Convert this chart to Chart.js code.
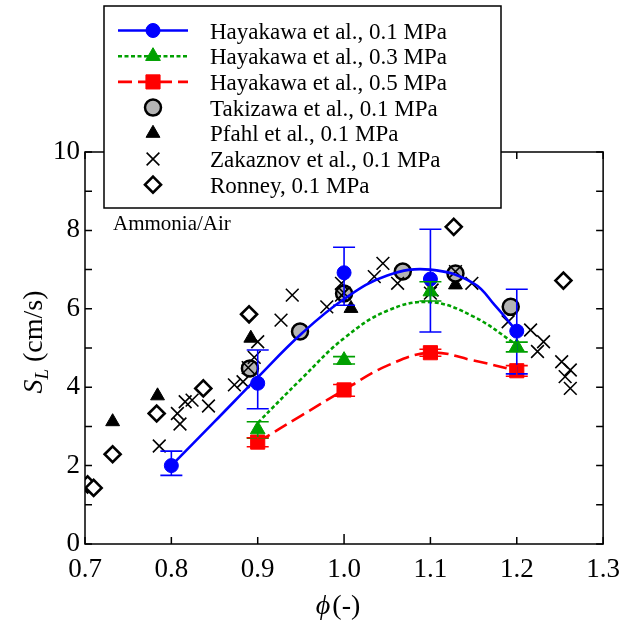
<!DOCTYPE html>
<html><head><meta charset="utf-8">
<script src="https://cdn.jsdelivr.net/npm/chart.js@4.4.1/dist/chart.umd.min.js"></script>
<style>html,body{margin:0;padding:0;background:#fff}#wrap{width:630px;height:626px;position:relative}</style>
</head><body><div id="wrap"><canvas id="c" width="630" height="626"></canvas></div>
<script>
// ---- data ----
const xTicks = [0.7, 0.8, 0.9, 1.0, 1.1, 1.2, 1.3];
const yTicks = [0, 2, 4, 6, 8, 10];

const hay01X  = [0.8, 0.9, 1.0, 1.1, 1.2];
const hay01Y  = [2.0, 4.1, 6.92, 6.76, 5.43];
const hay01Lo = [1.75, 3.45, 6.09, 5.41, 4.34];
const hay01Hi = [2.37, 4.95, 7.57, 8.03, 6.5];

const hay03X  = [0.9, 1.0, 1.1, 1.2];
const hay03Y  = [2.92, 4.69, 6.44, 5.03];
const hay03Lo = [2.7, 4.59, 6.2, 4.9];
const hay03Hi = [3.12, 4.78, 6.69, 5.15];

const hay05X  = [0.9, 1.0, 1.1, 1.2];
const hay05Y  = [2.6, 3.93, 4.88, 4.42];
const hay05Lo = [2.48, 3.77, 4.79, 4.28];
const hay05Hi = [2.71, 4.07, 4.97, 4.55];

const fit01X = [0.8, 0.85, 0.9, 0.95, 1.0, 1.05, 1.1, 1.15, 1.175, 1.2];
const fit01Y = [2.0, 3.12, 4.25, 5.35, 6.25, 6.85, 7.0, 6.65, 6.08, 5.43];
const fit03X = [0.9, 0.95, 1.0, 1.05, 1.1, 1.15, 1.2];
const fit03Y = [3.09, 4.2, 5.25, 5.95, 6.17, 5.8, 5.08];
const fit05X = [0.9, 0.95, 1.0, 1.05, 1.1, 1.15, 1.2];
const fit05Y = [2.6, 3.27, 3.93, 4.55, 4.88, 4.68, 4.42];

const takX = [0.891, 0.949, 1.0, 1.068, 1.129, 1.193];
const takY = [4.48, 5.42, 6.39, 6.95, 6.9, 6.05];

const pfaX = [0.732, 0.784, 0.892, 1.008, 1.129];
const pfaY = [3.12, 3.78, 5.25, 6.01, 6.61];

const zakX = [0.786, 0.807, 0.81, 0.816, 0.824, 0.843, 0.873, 0.883, 0.889, 0.896, 0.9, 0.927, 0.94, 0.98, 0.997, 0.997, 1.0, 1.035, 1.045, 1.062, 1.102, 1.1, 1.129, 1.148, 1.19, 1.216, 1.231, 1.224, 1.252, 1.262, 1.256, 1.262];
const zakY = [2.5, 3.33, 3.06, 3.63, 3.67, 3.52, 4.06, 4.14, 4.5, 4.76, 5.16, 5.71, 6.35, 6.05, 6.65, 6.35, 6.4, 6.82, 7.16, 6.65, 6.48, 6.4, 6.95, 6.65, 5.67, 5.46, 5.16, 4.91, 4.65, 4.44, 4.27, 3.97];

const ronX = [0.703, 0.71, 0.732, 0.783, 0.837, 0.89, 1.127, 1.254];
const ronY = [1.52, 1.43, 2.29, 3.33, 3.97, 5.86, 8.09, 6.72];

const legendLabels = [
  'Hayakawa et al., 0.1 MPa',
  'Hayakawa et al., 0.3 MPa',
  'Hayakawa et al., 0.5 MPa',
  'Takizawa et al., 0.1 MPa',
  'Pfahl et al., 0.1 MPa',
  'Zakaznov et al., 0.1 MPa',
  'Ronney, 0.1 MPa'
];
const annotationText = 'Ammonia/Air';

// ---- styling ----
const BLUE = '#0000ff', GREEN = '#00a000', RED = '#ff0000', GRAY = '#b4b4b4';
const SERIF = '"Liberation Serif", "Times New Roman", serif';
const pts = (xs, ys) => xs.map((x, i) => ({x, y: ys[i]}));

const markerStyles = [
  {style: 'circle', r: 7, bg: BLUE, bc: BLUE, bw: 1},
  {style: 'triangle', r: 8.5, bg: GREEN, bc: GREEN, bw: 1},
  {style: 'rect', r: 10, bg: RED, bc: RED, bw: 1},
  {style: 'circle', r: 8, bg: GRAY, bc: '#000', bw: 2.5},
  {style: 'triangle', r: 8, bg: '#000', bc: '#000', bw: 1},
  {style: 'crossRot', r: 9, bg: '#000', bc: '#000', bw: 1.6},
  {style: 'rectRot', r: 8, bg: '#fff', bc: '#000', bw: 2.6}
];
const lineStyles = [
  {color: BLUE, dash: []},
  {color: GREEN, dash: [4, 2.5]},
  {color: RED, dash: [14, 6]}
];

function scatterDs(label, data, m, order) {
  return {label, data, showLine: false, order,
    pointStyle: m.style, pointRadius: m.r, pointHoverRadius: m.r,
    pointBackgroundColor: m.bg, pointBorderColor: m.bc, pointBorderWidth: m.bw};
}
function curveDs(label, data, ls, order) {
  return {label, data, showLine: true, order, pointRadius: 0, pointHoverRadius: 0,
    borderColor: ls.color, borderWidth: 2.6, borderDash: ls.dash, tension: 0.4, fill: false};
}

const errorSets = [
  {x: hay01X, lo: hay01Lo, hi: hay01Hi, color: BLUE},
  {x: hay03X, lo: hay03Lo, hi: hay03Hi, color: GREEN},
  {x: hay05X, lo: hay05Lo, hi: hay05Hi, color: RED}
];

const errorBarPlugin = {
  id: 'errbars',
  afterDatasetsDraw(chart) {
    const {ctx, scales: {x, y}} = chart;
    ctx.save();
    ctx.lineWidth = 1.6;
    errorSets.forEach(s => {
      ctx.strokeStyle = s.color;
      s.x.forEach((xv, i) => {
        const px = x.getPixelForValue(xv);
        const p1 = y.getPixelForValue(s.lo[i]), p2 = y.getPixelForValue(s.hi[i]);
        ctx.beginPath();
        ctx.moveTo(px, p1); ctx.lineTo(px, p2);
        ctx.moveTo(px - 11, p1); ctx.lineTo(px + 11, p1);
        ctx.moveTo(px - 11, p2); ctx.lineTo(px + 11, p2);
        ctx.stroke();
      });
    });
    ctx.restore();
  }
};

function drawMarker(ctx, m, cx, cy) {
  ctx.save();
  ctx.fillStyle = m.bg; ctx.strokeStyle = m.bc; ctx.lineWidth = m.bw;
  Chart.helpers.drawPoint(ctx, {pointStyle: m.style, radius: m.r, rotation: 0, borderWidth: m.bw}, cx, cy);
  ctx.restore();
}

const framePlugin = {
  id: 'frame',
  afterDraw(chart) {
    const {ctx, chartArea: a, scales: {x, y}} = chart;
    ctx.save();
    ctx.strokeStyle = '#000';
    ctx.lineWidth = 1.5;
    ctx.strokeRect(a.left, a.top, a.right - a.left, a.bottom - a.top);
    ctx.beginPath();
    xTicks.forEach(v => {
      const px = x.getPixelForValue(v);
      const len = Math.abs(v - 1.0) < 1e-9 ? 10 : 7;
      ctx.moveTo(px, a.bottom); ctx.lineTo(px, a.bottom - len);
      ctx.moveTo(px, a.top); ctx.lineTo(px, a.top + len);
    });
    for (let v = y.min; v <= y.max; v += 1) {
      const py = y.getPixelForValue(v);
      ctx.moveTo(a.left, py); ctx.lineTo(a.left + 7, py);
      ctx.moveTo(a.right, py); ctx.lineTo(a.right - 7, py);
    }
    ctx.stroke();

    // axis titles
    ctx.fillStyle = '#000';
    ctx.textBaseline = 'alphabetic';
    // y title: S_L (cm/s)
    ctx.save();
    ctx.translate(42, 342);
    ctx.rotate(-Math.PI / 2);
    const fS = 'italic 28px ' + SERIF, fL = 'italic 19px ' + SERIF, fR = '28px ' + SERIF;
    ctx.font = fS; const wS = ctx.measureText('S').width;
    ctx.font = fL; const wL = ctx.measureText('L').width;
    ctx.font = fR; const wR = ctx.measureText(' (cm/s)').width;
    let sx = -(wS + wL + wR) / 2;
    ctx.font = fS; ctx.fillText('S', sx, 0); sx += wS;
    ctx.font = fL; ctx.fillText('L', sx, 6); sx += wL;
    ctx.font = fR; ctx.fillText(' (cm/s)', sx, 0);
    ctx.restore();
    // x title: phi (-)
    const fP = 'italic 28px ' + SERIF;
    const phi = '\u03d5';
    ctx.font = fP; const wP = ctx.measureText(phi).width;
    ctx.font = fR; const wD = ctx.measureText('(-)').width;
    let tx = (a.left + a.right) / 2 - 6 - (wP + 2 + wD) / 2;
    ctx.font = fP; ctx.fillText(phi, tx, 614);
    ctx.font = fR; ctx.fillText('(-)', tx + wP + 2, 614);

    // annotation
    ctx.font = '21px ' + SERIF;
    ctx.fillText(annotationText, 113, 230);

    // legend
    const L = {x: 104, y: 6, w: 397, h: 202};
    ctx.fillStyle = '#fff';
    ctx.fillRect(L.x, L.y, L.w, L.h);
    ctx.strokeStyle = '#000'; ctx.lineWidth = 1.5;
    ctx.strokeRect(L.x, L.y, L.w, L.h);
    legendLabels.forEach((lab, i) => {
      const cy = 30.5 + i * 25.7;
      if (i < 3) {
        const ls = lineStyles[i];
        ctx.save();
        ctx.strokeStyle = ls.color; ctx.lineWidth = 2.6; ctx.setLineDash(ls.dash);
        ctx.beginPath(); ctx.moveTo(118, cy); ctx.lineTo(188, cy); ctx.stroke();
        ctx.restore();
      }
      drawMarker(ctx, markerStyles[i], 153, cy);
      ctx.fillStyle = '#000';
      ctx.font = '23px ' + SERIF;
      ctx.textBaseline = 'alphabetic';
      ctx.fillText(lab, 210, cy + 8);
    });
    ctx.restore();
  }
};

new Chart(document.getElementById('c'), {
  type: 'scatter',
  data: {
    datasets: [
      scatterDs(legendLabels[0], pts(hay01X, hay01Y), markerStyles[0], 0),
      scatterDs(legendLabels[1], pts(hay03X, hay03Y), markerStyles[1], 1),
      scatterDs(legendLabels[2], pts(hay05X, hay05Y), markerStyles[2], 2),
      curveDs('fit 0.1', pts(fit01X, fit01Y), lineStyles[0], 3),
      curveDs('fit 0.3', pts(fit03X, fit03Y), lineStyles[1], 4),
      curveDs('fit 0.5', pts(fit05X, fit05Y), lineStyles[2], 5),
      scatterDs(legendLabels[5], pts(zakX, zakY), markerStyles[5], 6),
      scatterDs(legendLabels[3], pts(takX, takY), markerStyles[3], 7),
      scatterDs(legendLabels[4], pts(pfaX, pfaY), markerStyles[4], 8),
      scatterDs(legendLabels[6], pts(ronX, ronY), markerStyles[6], 9)
    ]
  },
  options: {
    responsive: false, animation: false, devicePixelRatio: 1,
    layout: {padding: {top: 152, right: 20, left: 0, bottom: 0}},
    plugins: {legend: {display: false}, tooltip: {enabled: false}},
    scales: {
      x: {
        type: 'linear', min: 0.7, max: 1.3,
        afterBuildTicks: s => { s.ticks = xTicks.map(v => ({value: v})); },
        afterFit: s => { s.height = 82; },
        grid: {display: false, drawTicks: false}, border: {display: false},
        ticks: {color: '#000', padding: 10, maxRotation: 0, autoSkip: false,
          font: {family: SERIF, size: 27}, callback: v => Number(v).toFixed(1)}
      },
      y: {
        type: 'linear', min: 0, max: 10,
        afterBuildTicks: s => { s.ticks = yTicks.map(v => ({value: v})); },
        afterFit: s => { s.width = 85; },
        grid: {display: false, drawTicks: false}, border: {display: false},
        ticks: {color: '#000', padding: 5, autoSkip: false,
          font: {family: SERIF, size: 27}, callback: v => String(v)}
      }
    }
  },
  plugins: [errorBarPlugin, framePlugin]
});
</script></body></html>
